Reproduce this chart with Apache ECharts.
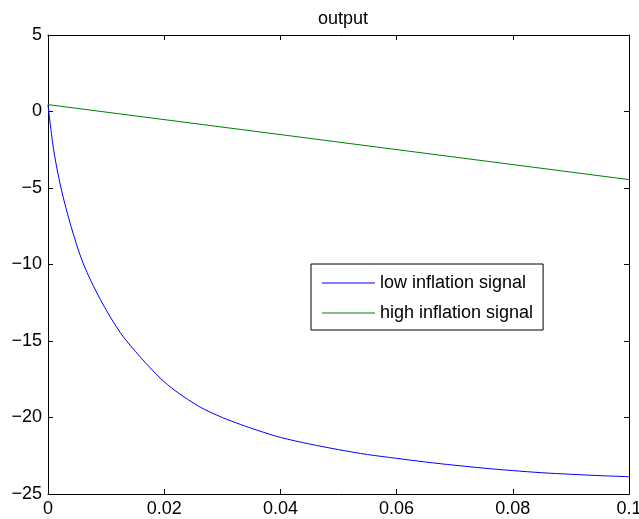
<!DOCTYPE html>
<html>
<head>
<meta charset="utf-8">
<script src="https://cdn.jsdelivr.net/npm/echarts@6/dist/echarts.min.js"></script>
<style>
  html, body { margin: 0; padding: 0; background: #fff; }
  #chart-container { width: 639px; height: 519px; }
</style>
</head>
<body>
<div id="chart-container"></div>
<script>
// values
const lowX = [0, 0.00097, 0.00224, 0.00396, 0.00608, 0.009, 0.01245, 0.0159, 0.0193, 0.0219, 0.0262, 0.03, 0.0331, 0.036, 0.04, 0.045, 0.05, 0.055, 0.06, 0.065, 0.07, 0.075, 0.08, 0.085, 0.09, 0.095, 0.1];
const lowY = [0.45, -2.5, -5.0, -7.5, -9.95, -12.28, -14.46, -16.05, -17.42, -18.25, -19.32, -20.0, -20.45, -20.83, -21.3, -21.73, -22.1, -22.42, -22.67, -22.91, -23.12, -23.31, -23.47, -23.61, -23.71, -23.8, -23.87];
const highX = [0, 0.1];
const highY = [0.45, -4.45];
const seriesNames = ['low inflation signal', 'high inflation signal'];

const font = "'Liberation Sans', Arial, sans-serif";
const dom = document.getElementById('chart-container');
const myChart = echarts.init(dom, null, { renderer: 'canvas' });

const pairs = (xs, ys) => xs.map((x, i) => [x, ys[i]]);
const minus = (v) => String(v).replace('-', '\u2212');

const axisLine = { show: true, onZero: false, lineStyle: { color: '#000', width: 1 } };
const axisTick = { show: true, inside: true, length: 5, lineStyle: { color: '#000' } };

const option = {
  animation: false,
  backgroundColor: '#fff',
  title: {
    text: 'output',
    left: 338,
    top: 5,
    textAlign: 'center',
    textStyle: { fontFamily: font, fontSize: 18, fontWeight: 'normal', color: '#000' },
  },
  grid: { left: 48, right: 10, top: 35, bottom: 25, containLabel: false, outerBoundsMode: 'none' },
  legend: {
    orient: 'vertical',
    left: 311,
    top: 264,
    data: seriesNames,
    icon: 'rect',
    itemWidth: 53,
    itemHeight: 1,
    itemGap: 12,
    padding: [10, 10, 8, 11],
    borderColor: '#000',
    borderWidth: 1,
    backgroundColor: '#fff',
    textStyle: { fontFamily: font, fontSize: 18, color: '#000' },
  },
  xAxis: [
    {
      type: 'value',
      min: 0,
      max: 0.1,
      interval: 0.02,
      axisLine,
      axisTick,
      splitLine: { show: false },
      axisLabel: { fontFamily: font, fontSize: 18, color: '#000', margin: 6 },
    },
    {
      type: 'value',
      position: 'top',
      min: 0,
      max: 0.1,
      interval: 0.02,
      axisLine,
      axisTick,
      splitLine: { show: false },
      axisLabel: { show: false },
    },
  ],
  yAxis: [
    {
      type: 'value',
      min: -25,
      max: 5,
      interval: 5,
      axisLine,
      axisTick,
      splitLine: { show: false },
      axisLabel: { fontFamily: font, fontSize: 18, color: '#000', margin: 6, formatter: minus },
    },
    {
      type: 'value',
      position: 'right',
      min: -25,
      max: 5,
      interval: 5,
      axisLine,
      axisTick,
      splitLine: { show: false },
      axisLabel: { show: false },
    },
  ],
  series: [
    {
      name: seriesNames[0],
      type: 'line',
      symbol: 'none',
      smooth: 0.3,
      lineStyle: { color: '#0000ff', width: 1 },
      itemStyle: { color: '#0000ff' },
      data: pairs(lowX, lowY),
    },
    {
      name: seriesNames[1],
      type: 'line',
      symbol: 'none',
      lineStyle: { color: '#008000', width: 1 },
      itemStyle: { color: '#008000' },
      data: pairs(highX, highY),
    },
  ],
};

myChart.setOption(option);
window.addEventListener('resize', myChart.resize);
</script>
</body>
</html>
